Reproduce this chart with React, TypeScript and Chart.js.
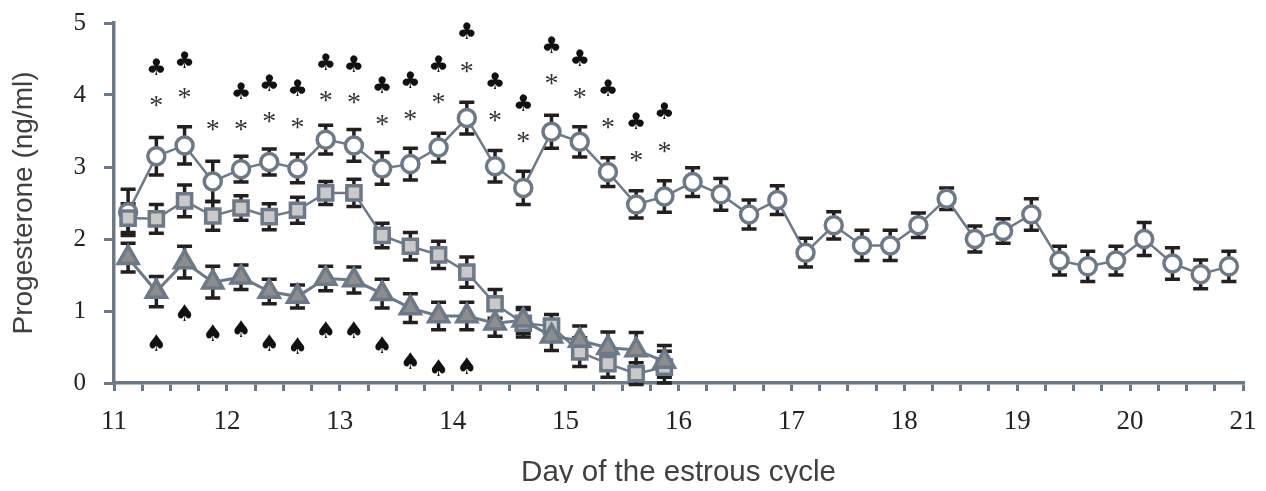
import React, { useEffect, useRef } from "react";
import { Chart, registerables } from "chart.js";

Chart.register(...registerables);

// Day of the estrous cycle (6-hour sampling points)
const days = [
  11.125, 11.375, 11.625, 11.875, 12.125, 12.375, 12.625, 12.875, 13.125, 13.375,
  13.625, 13.875, 14.125, 14.375, 14.625, 14.875, 15.125, 15.375, 15.625, 15.875,
  16.125, 16.375, 16.625, 16.875, 17.125, 17.375, 17.625, 17.875, 18.125, 18.375,
  18.625, 18.875, 19.125, 19.375, 19.625, 19.875, 20.125, 20.375, 20.625, 20.875,
];

// Open circles
const circleMean = [
  2.37, 3.15, 3.30, 2.80, 2.97, 3.07, 2.98, 3.38, 3.30, 2.98,
  3.04, 3.27, 3.68, 3.01, 2.71, 3.49, 3.35, 2.93, 2.48, 2.59,
  2.79, 2.62, 2.34, 2.54, 1.81, 2.19, 1.91, 1.91, 2.19, 2.56,
  2.00, 2.11, 2.34, 1.70, 1.62, 1.70, 2.00, 1.66, 1.51, 1.62,
];
const circleErr = [
  0.32, 0.26, 0.26, 0.28, 0.18, 0.18, 0.20, 0.20, 0.22, 0.22,
  0.22, 0.20, 0.22, 0.22, 0.23, 0.23, 0.21, 0.20, 0.19, 0.22,
  0.20, 0.22, 0.20, 0.20, 0.20, 0.19, 0.21, 0.21, 0.17, 0.15,
  0.18, 0.17, 0.22, 0.20, 0.21, 0.20, 0.23, 0.22, 0.20, 0.21,
];

// Light grey squares
const squareMean = [
  2.29, 2.28, 2.53, 2.32, 2.43, 2.31, 2.40, 2.64, 2.64, 2.05,
  1.90, 1.78, 1.54, 1.10, 0.83, 0.79, 0.43, 0.27, 0.13, 0.22,
];
const squareErr = [
  0.20, 0.20, 0.22, 0.20, 0.17, 0.18, 0.18, 0.16, 0.19, 0.17,
  0.19, 0.19, 0.21, 0.20, 0.19, 0.16, 0.20, 0.19, 0.15, 0.22,
];

// Dark grey triangles
const triangleMean = [
  1.74, 1.27, 1.68, 1.40, 1.47, 1.27, 1.20, 1.45, 1.43, 1.24,
  1.04, 0.93, 0.93, 0.83, 0.87, 0.65, 0.59, 0.49, 0.46, 0.30,
];
const triangleErr = [
  0.20, 0.21, 0.22, 0.22, 0.17, 0.17, 0.16, 0.17, 0.18, 0.20,
  0.20, 0.19, 0.19, 0.18, 0.18, 0.20, 0.20, 0.22, 0.24, 0.22,
];

// Significance marks (value level at which each mark sits, per sampling point)
const asteriskY = [
  null, 3.92, 4.02, 3.58, 3.58, 3.69, 3.61, 3.99, 3.96, 3.65,
  3.72, 3.95, 4.39, 3.71, 3.41, 4.22, 4.03, 3.61, 3.15, 3.27,
];
const clubY = [
  null, 4.40, 4.50, null, 4.06, 4.17, 4.10, 4.47, 4.44, 4.14,
  4.22, 4.44, 4.89, 4.20, 3.90, 4.70, 4.52, 4.11, 3.64, 3.79,
];
const spadeY = [
  null, 0.56, 0.98, 0.70, 0.76, 0.56, 0.52, 0.75, 0.75, 0.54,
  0.31, 0.22, 0.24, null, null, null, null, null, null, null,
];

const yTicks = [0, 1, 2, 3, 4, 5];
const xLabelDays = [11, 12, 13, 14, 15, 16, 17, 18, 19, 20, 21];

const SLATE = "#6b7989";
const SERIF = "'Liberation Serif', 'Times New Roman', serif";
const SANS = "'Liberation Sans', Arial, sans-serif";

function toPoints(mean: number[]) {
  return mean.map((m, i) => ({ x: days[i], y: m }));
}

function noPad(s: any) {
  s.paddingTop = 0;
  s.paddingBottom = 0;
  s.paddingLeft = 0;
  s.paddingRight = 0;
}

export default function App() {
  const ref = useRef<HTMLCanvasElement | null>(null);

  useEffect(() => {
    if (!ref.current) return;

    const errorBars = {
      id: "errorBars",
      beforeDatasetsDraw(chart: any) {
        const { ctx, scales } = chart;
        const xs = scales.x;
        const ys = scales.y;
        ctx.save();
        ctx.strokeStyle = "#231f20";
        ctx.lineWidth = 3.5;
        ctx.lineCap = "butt";
        chart.data.datasets.forEach((ds: any) => {
          const errs: number[] = ds.errors || [];
          ds.data.forEach((p: any, i: number) => {
            const e = errs[i];
            if (e == null) return;
            const px = xs.getPixelForValue(p.x);
            const top = ys.getPixelForValue(p.y + e);
            const bot = ys.getPixelForValue(p.y - e);
            ctx.beginPath();
            ctx.moveTo(px, top);
            ctx.lineTo(px, bot);
            ctx.moveTo(px - 7.5, top);
            ctx.lineTo(px + 7.5, top);
            ctx.moveTo(px - 7.5, bot);
            ctx.lineTo(px + 7.5, bot);
            ctx.stroke();
          });
        });
        ctx.restore();
      },
    };

    const marks = {
      id: "marks",
      afterDatasetsDraw(chart: any) {
        const { ctx, scales } = chart;
        const xs = scales.x;
        const ys = scales.y;
        ctx.save();
        ctx.textAlign = "center";
        ctx.textBaseline = "alphabetic";
        const draw = (vals: (number | null)[], ch: string, font: string, size: number, color: string, shift: number) => {
          ctx.font = `${size}px ${font}`;
          ctx.fillStyle = color;
          vals.forEach((v, i) => {
            if (v == null) return;
            const px = xs.getPixelForValue(days[i]);
            const py = ys.getPixelForValue(v);
            ctx.fillText(ch, px, py + shift * size);
          });
        };
        draw(asteriskY, "*", SERIF, 28, "#333333", 0.46);
        draw(clubY, "\u2663", "'DejaVu Sans', sans-serif", 23, "#111111", 0.37);
        draw(spadeY, "\u2660", "'DejaVu Sans', sans-serif", 23, "#111111", 0.37);
        ctx.restore();
      },
    };

    const chart = new Chart(ref.current, {
      type: "line",
      data: {
        datasets: [
          {
            label: "triangles",
            data: toPoints(triangleMean),
            errors: triangleErr,
            borderColor: SLATE,
            borderWidth: 3,
            pointStyle: "triangle",
            pointRadius: 11.5,
            pointBackgroundColor: "#8d8d8d",
            pointBorderColor: SLATE,
            pointBorderWidth: 3.5,
            clip: false,
          } as any,
          {
            label: "squares",
            data: toPoints(squareMean),
            errors: squareErr,
            borderColor: SLATE,
            borderWidth: 2.5,
            pointStyle: "rect",
            pointRadius: 10,
            pointBackgroundColor: "#c9c9c9",
            pointBorderColor: SLATE,
            pointBorderWidth: 3.5,
            clip: false,
          } as any,
          {
            label: "circles",
            data: toPoints(circleMean),
            errors: circleErr,
            borderColor: SLATE,
            borderWidth: 2.5,
            pointStyle: "circle",
            pointRadius: 8.5,
            pointBackgroundColor: "#ffffff",
            pointBorderColor: SLATE,
            pointBorderWidth: 3.5,
            clip: false,
          } as any,
        ],
      },
      options: {
        responsive: false,
        animation: false,
        layout: { padding: { top: 8, right: 4, left: 0, bottom: 0 } },
        plugins: {
          legend: { display: false },
          tooltip: { enabled: false },
        },
        scales: {
          x: {
            type: "linear",
            min: 11,
            max: 21,
            afterFit: (s: any) => {
              s.height = 100;
              noPad(s);
            },
            border: { display: true, color: SLATE, width: 3.5 },
            grid: { display: true, drawOnChartArea: false, drawTicks: true, tickLength: 8, color: SLATE, lineWidth: 3 },
            ticks: {
              stepSize: 0.25,
              autoSkip: false,
              maxRotation: 0,
              padding: 15,
              color: "#222222",
              font: { family: SERIF, size: 27 },
              callback: (v: any) => (xLabelDays.includes(Number(v)) ? String(v) : ""),
            },
            title: {
              display: true,
              text: "Day of the estrous cycle",
              color: "#404040",
              font: { family: SANS, size: 29.5, lineHeight: 0.7 },
              padding: { top: 0, bottom: 0 },
            },
          },
          y: {
            type: "linear",
            min: 0,
            max: 5,
            afterFit: (s: any) => {
              s.width = 106;
              noPad(s);
            },
            afterBuildTicks: (s: any) => {
              s.ticks = yTicks.map((v) => ({ value: v }));
            },
            border: { display: true, color: SLATE, width: 3.5 },
            grid: { display: true, drawOnChartArea: false, drawTicks: true, tickLength: 10, color: SLATE, lineWidth: 3 },
            ticks: {
              padding: 18,
              color: "#222222",
              font: { family: SERIF, size: 25 },
            },
            title: {
              display: true,
              text: "Progesterone (ng/ml)",
              color: "#404040",
              font: { family: SANS, size: 28, lineHeight: 1.15 },
              padding: { top: 0, bottom: 0 },
            },
          },
        },
      },
      plugins: [errorBars, marks],
    } as any);

    return () => chart.destroy();
  }, []);

  return (
    <div style={{ width: 1250, height: 475 }}>
      <canvas ref={ref} width={1250} height={475} />
    </div>
  );
}
